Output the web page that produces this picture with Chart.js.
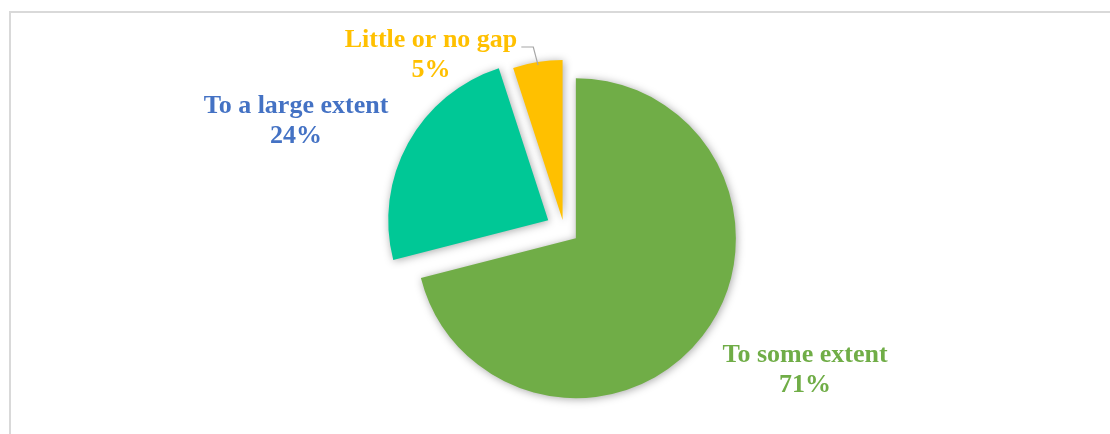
<!DOCTYPE html>
<html lang="en">
<head>
    <meta charset="UTF-8">
    <title>Gap Extent</title>
    <script src="https://cdn.jsdelivr.net/npm/chart.js"></script>
    <style>
        html, body {
            margin: 0;
            padding: 0;
            overflow: hidden;
            background-color: #ffffff;
        }

        .frame {
            position: absolute;
            left: 9px;
            top: 11px;
            width: 1200px;
            height: 600px;
            border: 2px solid #d9d9d9;
        }

        #pieChart {
            position: absolute;
            left: 0;
            top: 0;
        }
    </style>
</head>
<body>
    <div class="frame"></div>
    <canvas id="pieChart" width="1110" height="434"></canvas>

    <script>
        const categories = ['To some extent', 'To a large extent', 'Little or no gap'];
        const shares = [71, 24, 5];

        const sliceColors = ['#70ad47', '#00c896', '#ffc000'];
        const labelColors = ['#70ad47', '#4472c4', '#ffc000'];
        const explode = [15, 18, 9];              // px each slice is pulled out
        const labelAnchor = [[241, 133], [-268, -116], [-133, -182]]; // from pie centre

        // pulls each slice out along its middle angle
        const explodePlugin = {
            id: 'explode',
            afterDatasetsUpdate(chart) {
                const meta = chart.getDatasetMeta(0);
                meta.data.forEach((arc, i) => {
                    const mid = (arc.startAngle + arc.endAngle) / 2;
                    arc.x += Math.cos(mid) * explode[i];
                    arc.y += Math.sin(mid) * explode[i];
                });
            },
            beforeDatasetsDraw(chart) {
                const ctx = chart.ctx;
                ctx.save();
                ctx.shadowColor = 'rgba(0, 0, 0, 0.35)';
                ctx.shadowBlur = 8;
                ctx.shadowOffsetX = 1;
                ctx.shadowOffsetY = 1;
            },
            afterDatasetsDraw(chart) {
                chart.ctx.restore();
            }
        };

        // category name + percentage under it, plus the leader line for the small slice
        const labelPlugin = {
            id: 'sliceLabels',
            afterDraw(chart) {
                const ctx = chart.ctx;
                const area = chart.chartArea;
                const cx = (area.left + area.right) / 2;
                const cy = (area.top + area.bottom) / 2;
                const total = shares.reduce((a, b) => a + b, 0);

                ctx.save();
                ctx.font = 'bold 26px "Liberation Serif", "Times New Roman", serif';
                ctx.textAlign = 'center';
                ctx.textBaseline = 'alphabetic';
                categories.forEach((name, i) => {
                    const x = cx + labelAnchor[i][0];
                    const y = cy + labelAnchor[i][1];
                    ctx.fillStyle = labelColors[i];
                    ctx.fillText(name, x, y);
                    ctx.fillText(Math.round(shares[i] / total * 100) + '%', x, y + 30);
                });

                // leader line from "Little or no gap" to its slice
                const arc = chart.getDatasetMeta(0).data[2];
                const textEnd = cx + labelAnchor[2][0] + ctx.measureText(categories[2]).width / 2;
                const ly = cy + labelAnchor[2][1];
                const mid = (arc.startAngle + arc.endAngle) / 2;
                const r = arc.outerRadius - 3;
                ctx.strokeStyle = '#a6a6a6';
                ctx.lineWidth = 1.2;
                ctx.beginPath();
                ctx.moveTo(textEnd + 4, ly);
                ctx.lineTo(textEnd + 16, ly);
                ctx.lineTo(arc.x + Math.cos(mid) * r, arc.y + Math.sin(mid) * r);
                ctx.stroke();
                ctx.restore();
            }
        };

        new Chart(document.getElementById('pieChart'), {
            type: 'pie',
            data: {
                labels: categories,
                datasets: [{
                    data: shares,
                    backgroundColor: sliceColors,
                    borderWidth: 0,
                    radius: 160
                }]
            },
            options: {
                responsive: false,
                animation: false,
                layout: { padding: { left: 18, right: 0, top: 24, bottom: 0 } },
                plugins: {
                    legend: { display: false },
                    tooltip: { enabled: false }
                }
            },
            plugins: [explodePlugin, labelPlugin]
        });
    </script>
</body>
</html>
